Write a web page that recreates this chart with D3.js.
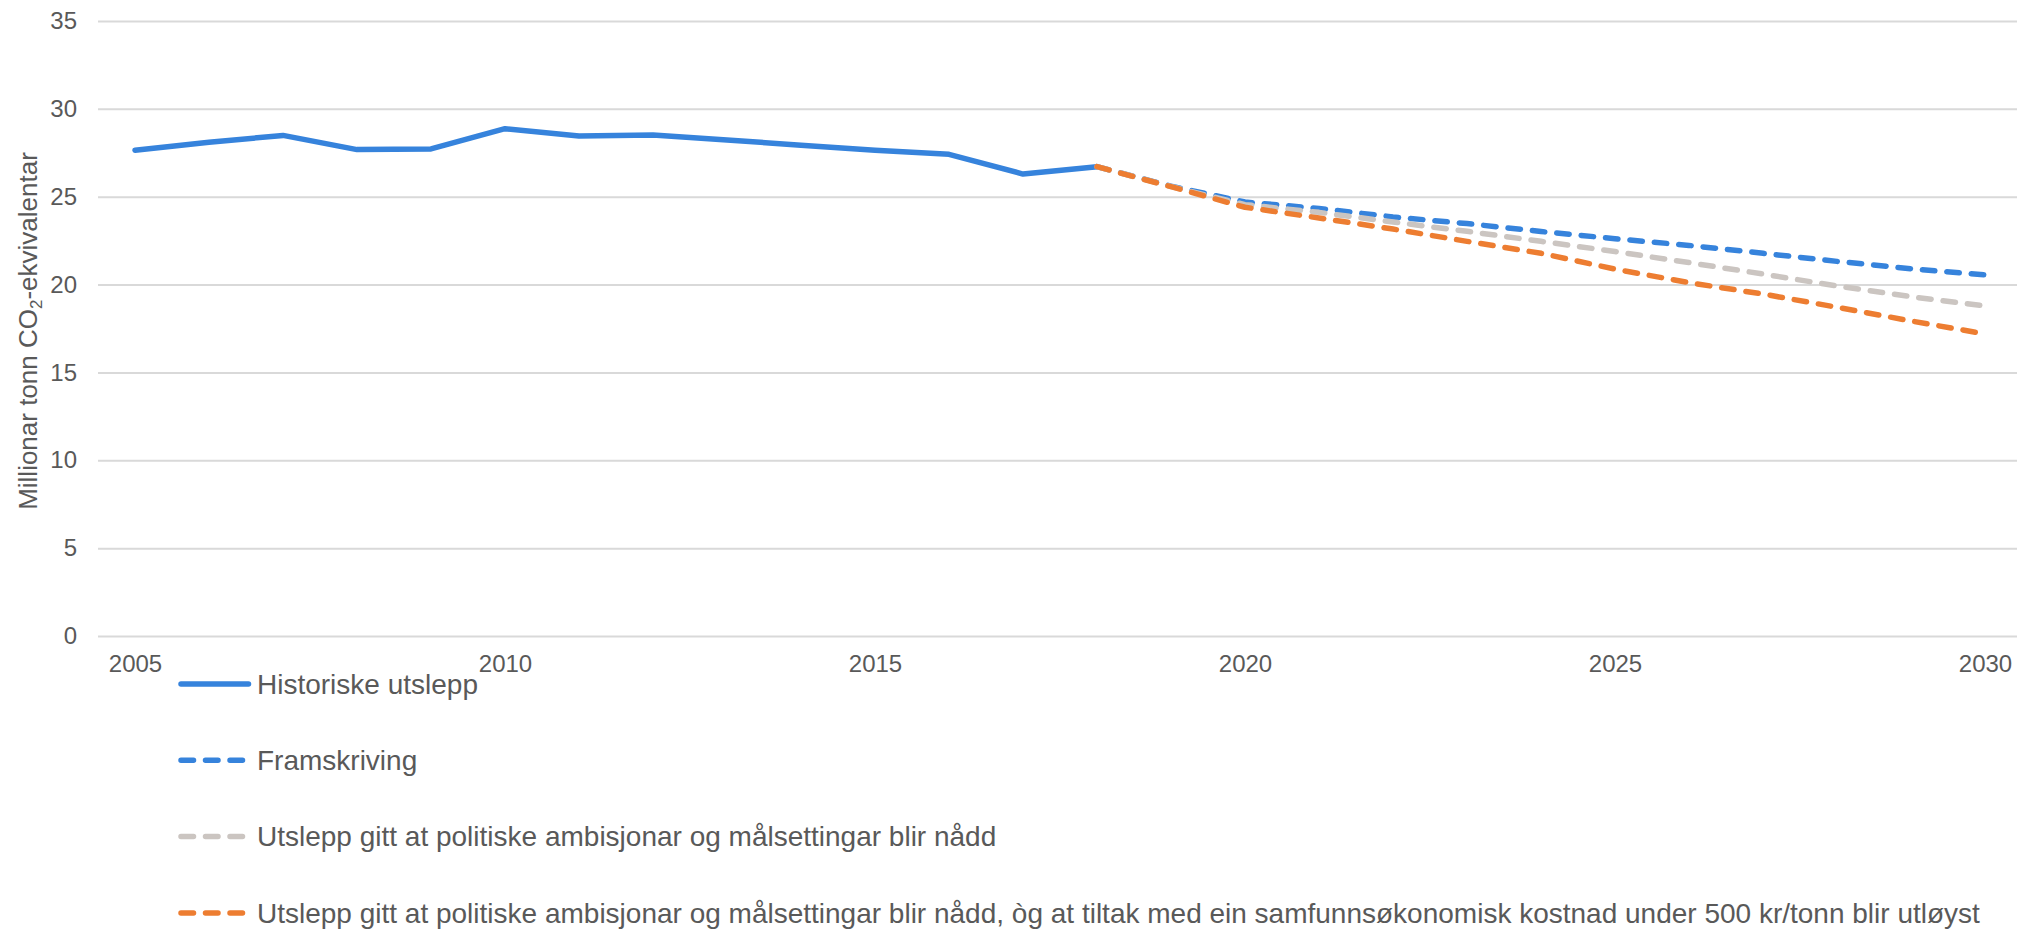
<!DOCTYPE html>
<html>
<head>
<meta charset="utf-8">
<script src="https://cdn.jsdelivr.net/npm/d3@7"></script>
<style>
  html, body { margin: 0; padding: 0; background: #fff; overflow: hidden; }
  svg { display: block; font-family: "Liberation Sans", Arial, sans-serif; }
  .axis text { fill: #595959; font-size: 24px; }
  .axis .domain { display: none; }
  .y.axis line { stroke: #d9d9d9; stroke-width: 2; }
  .legend text { fill: #595959; font-size: 28px; }
  .title { fill: #595959; font-size: 26px; }
</style>
</head>
<body>
<div id="chart"></div>
<script>
// years on the category axis
var years = [2005, 2006, 2007, 2008, 2009, 2010, 2011, 2012, 2013, 2014, 2015, 2016, 2017,
             2018, 2019, 2020, 2021, 2022, 2023, 2024, 2025, 2026, 2027, 2028, 2029, 2030];
var xTickYears = [2005, 2010, 2015, 2020, 2025, 2030];
var yTicks = [0, 5, 10, 15, 20, 25, 30, 35];

// 2005-2018
var historiske = [27.64, 28.10, 28.49, 27.68, 27.72, 28.87, 28.46, 28.51, 28.23, 27.93, 27.64, 27.41, 26.29, 26.71];
// 2018-2030
var framskriving = [26.71, 25.60, 24.70, 24.33, 23.85, 23.47, 23.02, 22.61, 22.23, 21.78, 21.32, 20.90, 20.55];
var ambisjonar = [26.71, 25.58, 24.55, 24.11, 23.56, 23.03, 22.46, 21.88, 21.25, 20.60, 19.92, 19.31, 18.78];
var tiltak = [26.71, 25.57, 24.40, 23.79, 23.16, 22.46, 21.78, 20.88, 20.11, 19.46, 18.71, 17.93, 17.19];

var seriesNames = [
  'Historiske utslepp',
  'Framskriving',
  'Utslepp gitt at politiske ambisjonar og målsettingar blir nådd',
  'Utslepp gitt at politiske ambisjonar og målsettingar blir nådd, òg at tiltak med ein samfunnsøkonomisk kostnad under 500 kr/tonn blir utløyst'
];
var seriesColors = ['#3683dc', '#3683dc', '#cbc5c1', '#ed7d31'];
var seriesDashed = [false, true, true, true];

var W = 2017, H = 929;
var plot = { left: 98, right: 2022, top: 21, bottom: 636 };
var dash = '12.5,12';
var lineWidth = 5.5;

var svg = d3.select('#chart').append('svg')
    .attr('width', W)
    .attr('height', H);

var x = d3.scalePoint()
    .domain(years)
    .range([plot.left, plot.right])
    .padding(0.5);

var y = d3.scaleLinear()
    .domain([0, 35])
    .range([plot.bottom, plot.top]);

// y axis with gridlines
svg.append('g')
    .attr('class', 'y axis')
    .attr('transform', 'translate(' + plot.left + ',0)')
    .call(d3.axisLeft(y)
      .tickValues(yTicks)
      .tickSizeInner(-(plot.right - plot.left))
      .tickSizeOuter(0)
      .tickPadding(21));

// x axis labels only
svg.append('g')
    .attr('class', 'x axis')
    .attr('transform', 'translate(0,' + plot.bottom + ')')
    .call(d3.axisBottom(x)
      .tickValues(xTickYears)
      .tickSize(0)
      .tickPadding(19));

// axis title, with subscript 2
var title = svg.append('text')
    .attr('class', 'title')
    .attr('text-anchor', 'middle')
    .attr('transform', 'translate(37,331) rotate(-90)');
title.append('tspan').text('Millionar tonn CO');
title.append('tspan').attr('font-size', '17px').attr('dy', 5).text('2');
title.append('tspan').attr('dy', -5).text('-ekvivalentar');

function seriesData(values, startYear) {
  var i0 = years.indexOf(startYear);
  return values.map(function (v, i) { return { year: years[i0 + i], value: v }; });
}

var line = d3.line()
    .x(function (d) { return x(d.year); })
    .y(function (d) { return y(d.value); });

var series = [
  seriesData(historiske, 2005),
  seriesData(framskriving, 2018),
  seriesData(ambisjonar, 2018),
  seriesData(tiltak, 2018)
];

series.forEach(function (data, i) {
  svg.append('path')
      .attr('d', line(data))
      .attr('fill', 'none')
      .attr('stroke', seriesColors[i])
      .attr('stroke-width', lineWidth)
      .attr('stroke-linejoin', 'round')
      .attr('stroke-linecap', 'round')
      .attr('stroke-dasharray', seriesDashed[i] ? dash : null);
});

// legend, one row per series
var legend = svg.append('g').attr('class', 'legend');
var legendX = 181, legendY = 684, legendStep = 76.3;

seriesNames.forEach(function (name, i) {
  var ly = legendY + i * legendStep;
  var len = seriesDashed[i] ? 61.5 : 67.5;
  legend.append('line')
      .attr('x1', legendX)
      .attr('x2', legendX + len)
      .attr('y1', ly)
      .attr('y2', ly)
      .attr('stroke', seriesColors[i])
      .attr('stroke-width', lineWidth)
      .attr('stroke-linecap', 'round')
      .attr('stroke-dasharray', seriesDashed[i] ? dash : null);
  legend.append('text')
      .attr('x', 257)
      .attr('y', ly)
      .attr('dy', '0.35em')
      .text(name);
});
</script>
</body>
</html>
